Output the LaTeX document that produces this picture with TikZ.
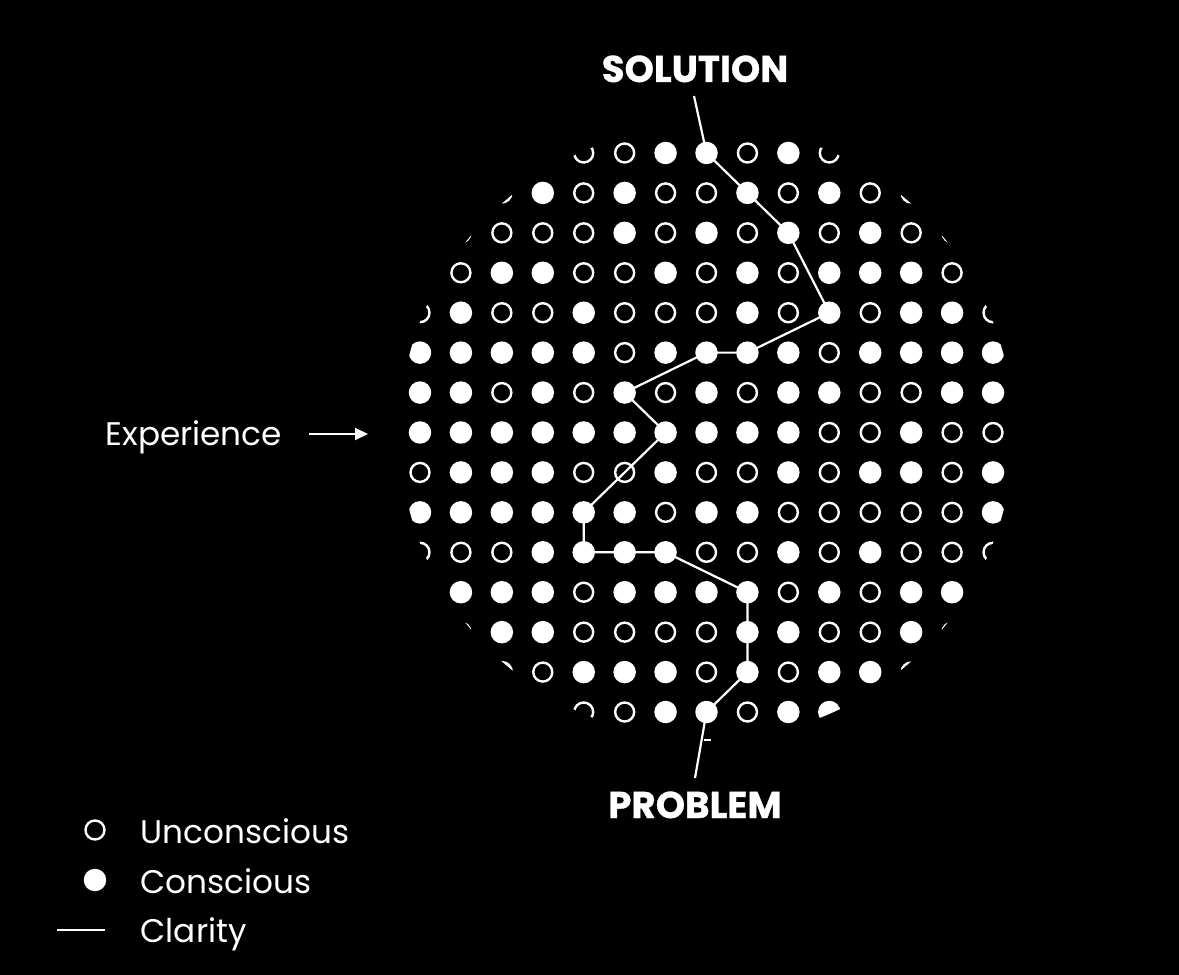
\documentclass[tikz,border=0pt]{standalone}
\usepackage{fontspec}
\setmainfont{Poppins}
\usetikzlibrary{arrows.meta}
\definecolor{bgblack}{RGB}{0,0,0}
\definecolor{dotwhite}{RGB}{255,255,255}
\tikzset{
    % Define dot styles
    unconscious/.style={
        circle, draw=dotwhite, line width=0.24mm, fill=none,
        minimum size=1.9mm, inner sep=0pt
    },
    conscious/.style={
        circle, draw=none, fill=dotwhite,
        minimum size=2.25mm, inner sep=0pt
    },
    cell0/.style={unconscious},
    cell1/.style={conscious},
    clarity/.style={
        draw=dotwhite, line width=0.22mm, line join=round
    },
    headline/.style={
        text=dotwhite, inner sep=0pt, anchor=base,
        font=\fontsize{10.6}{12}\selectfont\bfseries\addfontfeature{FakeBold=0.8}
    },
    legendtext/.style={
        text=dotwhite, inner sep=0pt, anchor=base west,
        font=\fontsize{9.3}{12}\selectfont
    },
    pointer/.style={
        -{Triangle[length=1.3mm,width=1.2mm]}, line width=0.2mm, draw=dotwhite
    }
}

\begin{document}
\begin{tikzpicture}[x=0.1mm, y=-0.1mm]

% Background
\fill[bgblack] (0,0) rectangle (1179,975);
\useasboundingbox (0,0) rectangle (1179,975);

% Dot field, clipped to a disc
\begin{scope}
\clip (706.5,432.5) circle (307);
\foreach \states [count=\r from 0] in {
    {0,0,0,0,0,0,1,1,0,1,0,0,0,0,0},
    {0,0,0,1,0,1,0,0,1,0,1,0,0,0,0},
    {0,0,0,0,0,1,0,1,0,1,0,1,0,0,0},
    {0,0,1,1,0,0,1,0,1,0,1,1,1,0,0},
    {0,1,0,0,1,0,0,0,1,0,1,0,1,1,0},
    {1,1,1,1,1,0,1,1,1,1,0,1,1,1,1},
    {1,1,0,1,0,1,0,1,0,1,1,0,0,1,1},
    {1,1,1,1,1,1,1,1,1,1,0,0,1,0,0},
    {0,1,1,1,0,0,1,0,0,1,0,1,1,0,1},
    {1,1,1,1,1,1,0,1,1,0,0,0,0,0,1},
    {0,0,0,1,1,1,1,0,0,1,0,1,0,0,0},
    {0,1,1,1,0,1,1,1,1,0,1,0,1,1,0},
    {0,0,1,1,0,0,0,0,1,1,0,0,1,0,0},
    {0,0,1,0,1,1,1,0,1,0,1,1,0,0,0},
    {0,0,0,0,0,0,1,1,0,1,1,0,0,0,0}}{
    \foreach \s [count=\c from 0] in \states {
        \node[cell\s] (d-\r-\c) at ({706.5+40.93*(\c-7)},{432.5+39.93*(\r-7)}) {};
    }
}
\end{scope}

% Clarity path from problem to solution
\coordinate (sol-end) at (694,96);
\coordinate (prob-end) at (695,778);
\draw[clarity] (sol-end) -- (d-0-7.center) -- (d-1-8.center) -- (d-2-9.center)
    -- (d-4-10.center) -- (d-5-8.center) -- (d-5-7.center) -- (d-6-5.center)
    -- (d-7-6.center) -- (d-9-4.center) -- (d-10-4.center) -- (d-10-6.center)
    -- (d-11-8.center) -- (d-13-8.center) -- (d-14-7.center) -- (prob-end);
\coordinate (tick) at (704,740);
\draw[clarity] (tick) -- ++(7,0);

% Labels
\node[headline] (solution) at (695,82) {SOLUTION};
\node[headline] (problem) at (695,818) {PROBLEM};

\node[legendtext] (experience) at (105,446) {Experience};
\coordinate (exp-tail) at (309,434);
\coordinate (exp-tip) at (368,434);
\draw[pointer] (exp-tail) -- (exp-tip);

% Legend
\node[unconscious] (key-u) at (95,830) {};
\node[legendtext] (key-u-text) at (140,843) {Unconscious};
\node[conscious] (key-c) at (95,880) {};
\node[legendtext] (key-c-text) at (140,893) {Conscious};
\coordinate (key-l-a) at (57,930);
\coordinate (key-l-b) at (105,930);
\draw[clarity] (key-l-a) -- (key-l-b);
\node[legendtext] (key-l-text) at (140,942) {Clarity};

\end{tikzpicture}
\end{document}
